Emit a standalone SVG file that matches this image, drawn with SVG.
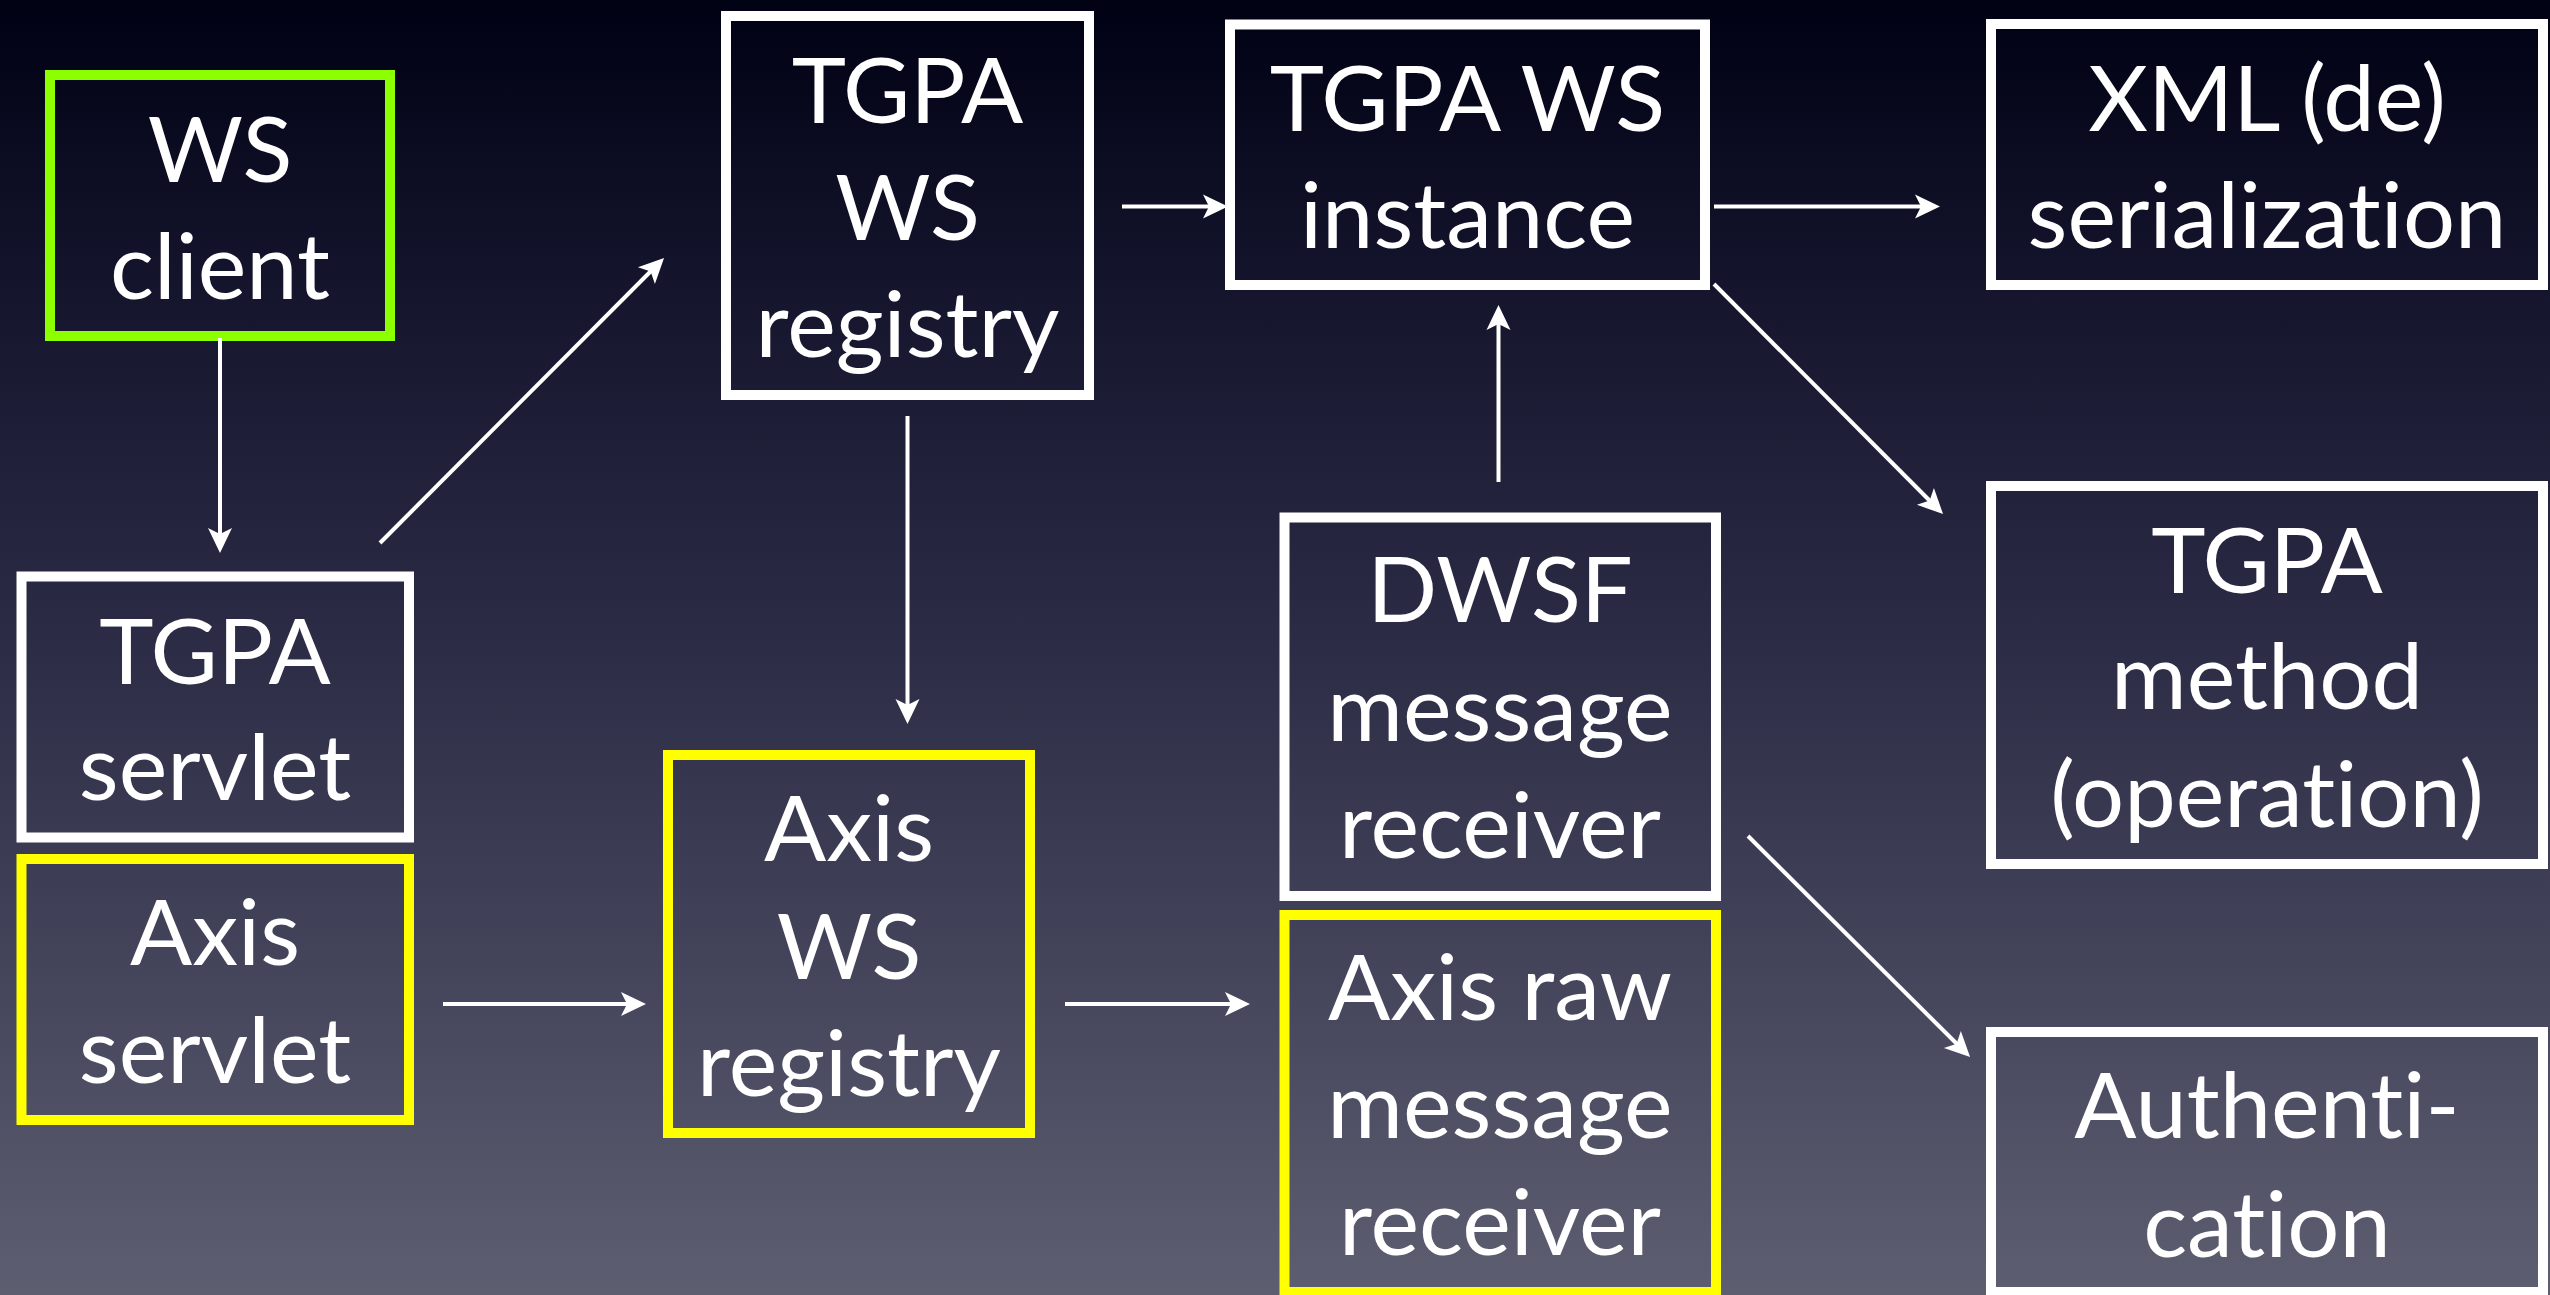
<svg xmlns="http://www.w3.org/2000/svg" width="2550" height="1295" viewBox="0 0 2550 1295">
<defs>
<linearGradient id="bg" x1="0" y1="0" x2="0" y2="1">
<stop offset="0" stop-color="#010114"/>
<stop offset="0.23" stop-color="#15152e"/>
<stop offset="0.5" stop-color="#2c2c46"/>
<stop offset="0.77" stop-color="#46475d"/>
<stop offset="1" stop-color="#5d5e70"/>
</linearGradient>
<marker id="ah" markerUnits="userSpaceOnUse" viewBox="-16 -13 27 26" refX="0" refY="0" markerWidth="27" markerHeight="26" orient="auto">
<path d="M10,0 L-15,-12 L-9,0 L-15,12 Z" fill="#ffffff"/>
</marker>
</defs>
<style>
.box{fill:none;stroke-width:10}
.w{stroke:#ffffff}
.y{stroke:#ffff00}
.g{stroke:#8cff00}
.t{font-family:Lato,"Open Sans","DejaVu Sans",sans-serif;font-size:92px;fill:#ffffff;text-anchor:middle;font-variant-ligatures:none;font-feature-settings:"liga" 0,"clig" 0}
.c{stroke:#ffffff;stroke-width:4;fill:none;marker-end:url(#ah)}
</style>
<rect x="0" y="0" width="2550" height="1295" fill="url(#bg)"/>

<g id="ws-client">
<rect class="box g" x="50" y="75" width="340" height="261"/>
<text class="t" x="220" y="182">WS</text>
<text class="t" x="220" y="299">client</text>
</g>
<g id="tgpa-ws-registry">
<rect class="box w" x="726" y="16" width="363" height="379"/>
<text class="t" x="907.5" y="123">TGPA</text>
<text class="t" x="907.5" y="240">WS</text>
<text class="t" x="907.5" y="357">registry</text>
</g>
<g id="tgpa-ws-instance">
<rect class="box w" x="1230" y="24.5" width="475" height="260.5"/>
<text class="t" x="1467.5" y="131">TGPA WS</text>
<text class="t" x="1467.5" y="248">instance</text>
</g>
<g id="xml-serialization">
<rect class="box w" x="1991" y="24" width="552" height="261"/>
<text class="t" x="2267" y="131">XML (de)</text>
<text class="t" x="2267" y="248">serialization</text>
</g>
<g id="tgpa-servlet">
<rect class="box w" x="21.5" y="576.5" width="387.5" height="261"/>
<text class="t" x="215" y="684">TGPA</text>
<text class="t" x="215" y="800">servlet</text>
</g>
<g id="axis-servlet">
<rect class="box y" x="21.5" y="859" width="387.5" height="261"/>
<text class="t" x="215" y="965">Axis</text>
<text class="t" x="215" y="1083">servlet</text>
</g>
<g id="axis-ws-registry">
<rect class="box y" x="668" y="755" width="362" height="378"/>
<text class="t" x="849" y="861">Axis</text>
<text class="t" x="849" y="979">WS</text>
<text class="t" x="849" y="1096">registry</text>
</g>
<g id="dwsf-message-receiver">
<rect class="box w" x="1284.5" y="517.5" width="431.5" height="378.5"/>
<text class="t" x="1500" y="622">DWSF</text>
<text class="t" x="1500" y="741">message</text>
<text class="t" x="1500" y="858">receiver</text>
</g>
<g id="axis-raw-message-receiver">
<rect class="box y" x="1284.5" y="915" width="431.5" height="377"/>
<text class="t" x="1500" y="1020">Axis raw</text>
<text class="t" x="1500" y="1138">message</text>
<text class="t" x="1500" y="1255">receiver</text>
</g>
<g id="tgpa-method">
<rect class="box w" x="1991" y="486" width="552" height="378"/>
<text class="t" x="2267" y="593">TGPA</text>
<text class="t" x="2267" y="709">method</text>
<text class="t" x="2267" y="827">(operation)</text>
</g>
<g id="authentication">
<rect class="box w" x="1991" y="1032" width="552" height="260"/>
<text class="t" x="2267" y="1138">Authenti-</text>
<text class="t" x="2267" y="1257">cation</text>
</g>

<g id="connectors">
<line class="c" x1="220" y1="338" x2="220" y2="543"/>
<line class="c" x1="380" y1="543" x2="657" y2="265"/>
<line class="c" x1="1122" y1="206.5" x2="1218" y2="206.5"/>
<line class="c" x1="1714" y1="206.5" x2="1930" y2="206.5"/>
<line class="c" x1="1714" y1="284" x2="1936" y2="507"/>
<line class="c" x1="1498.5" y1="482" x2="1498.5" y2="315"/>
<line class="c" x1="907.5" y1="416" x2="907.5" y2="714"/>
<line class="c" x1="443" y1="1004" x2="636" y2="1004"/>
<line class="c" x1="1065" y1="1004" x2="1240" y2="1004"/>
<line class="c" x1="1748" y1="836" x2="1963" y2="1050"/>
</g>
</svg>
